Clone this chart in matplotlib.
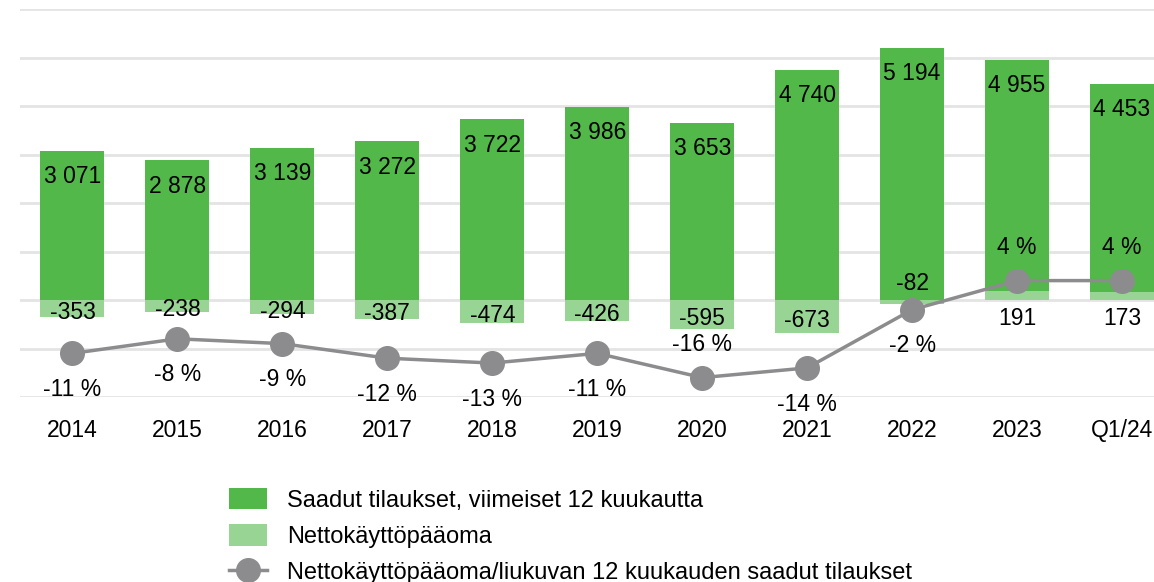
import matplotlib
matplotlib.use("Agg")
import matplotlib.pyplot as plt
from matplotlib.patches import Patch
from matplotlib.lines import Line2D

plt.rcParams['font.family'] = ['Liberation Sans', 'DejaVu Sans']

# Saadut tilaukset (12 kk) ja nettokäyttöpääoma, MEUR
periods = ['2014', '2015', '2016', '2017', '2018', '2019', '2020', '2021', '2022', '2023', 'Q1/24']
orders = [3071, 2878, 3139, 3272, 3722, 3986, 3653, 4740, 5194, 4955, 4453]
nwc = [-353, -238, -294, -387, -474, -426, -595, -673, -82, 191, 173]
nwc_pct = [-11, -8, -9, -12, -13, -11, -16, -14, -2, 4, 4]

dark = '#52b849'
light = '#98d594'
grey = '#8c8c8e'
fs = 16.5

def fmt(v):
    return '{:,}'.format(v).replace(',', ' ')

fig = plt.figure(figsize=(11.54, 5.82), dpi=100)
ax = fig.add_axes([20 / 1154, 1 - 397 / 582, 1134 / 1154, 388 / 582])
ax2 = ax.twinx()

x = list(range(len(periods)))
ax.bar(x, orders, width=0.61, color=dark, zorder=2)
ax.bar(x, nwc, width=0.61, color=light, zorder=3)

ax.set_ylim(-2000, 6000)
ax.set_yticks(range(-2000, 6001, 1000))
ax.set_xlim(-0.5, 10.5 - 20.5 / 105)
ax.grid(axis='y', color='#e4e4e4', linewidth=2, zorder=0)
ax.set_axisbelow(True)
ax.tick_params(axis='y', left=False, labelleft=False)
ax.tick_params(axis='x', length=0, labelsize=fs, pad=16)
ax.set_xticks(x)
ax.set_xticklabels(periods)
for s in ax.spines.values():
    s.set_visible(False)

# tilausten arvot pylväiden yläpäähän
for i, v in enumerate(orders):
    ax.annotate(fmt(v), (i, v), xytext=(0, -18.5), textcoords='offset points',
                ha='center', va='center', fontsize=fs, zorder=5)

# nettokäyttöpääoman arvot
for i, v in enumerate(nwc):
    if v < -100:
        pos, off = v / 2, -3
    elif v < 0:
        pos, off = 0, 12
    else:
        pos, off = 0, -13
    ax.annotate(fmt(v), (i, pos), xytext=(0, off), textcoords='offset points',
                ha='center', va='center', fontsize=fs, zorder=5)

# osuus-viiva omalla akselillaan
ax2.plot(x, nwc_pct, color=grey, linewidth=2.5, marker='o', markersize=17, zorder=4)
ax2.set_ylim(-20, 60)
ax2.set_yticks([])
for s in ax2.spines.values():
    s.set_visible(False)
for i, p in enumerate(nwc_pct):
    off = 24 if p in (-16, 4) else -26
    ax2.annotate('{} %'.format(p), (i, p), xytext=(0, off), textcoords='offset points',
                 ha='center', va='center', fontsize=fs)

handles = [
    Patch(facecolor=dark),
    Patch(facecolor=light),
    Line2D([0], [0], color=grey, linewidth=2.5, marker='o', markersize=17),
]
labels = [
    'Saadut tilaukset, viimeiset 12 kuukautta',
    'Nettokäyttöpääoma',
    'Nettokäyttöpääoma/liukuvan 12 kuukauden saadut tilaukset',
]
fig.legend(handles, labels, loc='upper left', bbox_to_anchor=(229 / 1154, 1 - 488 / 582),
           frameon=False, fontsize=17, handlelength=1.61, handleheight=1.02,
           labelspacing=0.52, handletextpad=0.85, borderaxespad=0, borderpad=0)

fig.savefig('out.png', dpi=100)
